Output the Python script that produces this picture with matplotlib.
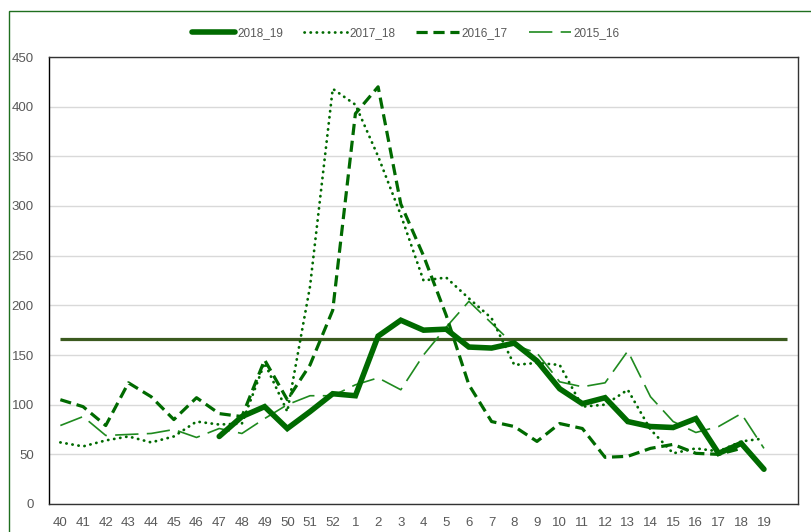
import numpy as np
import matplotlib
matplotlib.use("Agg")
import matplotlib.pyplot as plt
from matplotlib.patches import Rectangle

plt.rcParams["font.family"] = ["Liberation Sans Narrow", "Liberation Sans", "DejaVu Sans"]

# --------------------------------------------------------------------------- #
#  Data (weeks 40..52, 1..19, plus one empty slot at the end)
# --------------------------------------------------------------------------- #
weeks = [str(w) for w in range(40, 53)] + [str(w) for w in range(1, 20)] + [""]
nan = np.nan

s2018_19 = [nan, nan, nan, nan, nan, nan, nan,
            68, 88, 98, 76, 93, 111, 109, 169, 185, 175, 176, 158, 157,
            162, 144, 116, 101, 107, 83, 78, 77, 86, 51, 61, 35, nan]
s2017_18 = [62, 58, 64, 68, 62, 68, 83, 80, 81, 142, 93, 219, 418, 402,
            350, 291, 225, 228, 207, 187, 140, 142, 140, 98, 100, 115,
            75, 51, 56, 53, 63, 66, nan]
s2016_17 = [105, 98, 79, 122, 108, 85, 107, 91, 88, 145, 105, 140, 195,
            393, 420, 302, 250, 190, 120, 83, 78, 63, 81, 76, 47, 48, 56,
            60, 51, 50, 56, nan, nan]
s2015_16 = [79, 88, 69, 70, 71, 75, 67, 76, 71, 86, 100, 109, 109, 120,
            127, 115, 150, 178, 204, 182, 160, 152, 123, 118, 122, 154,
            108, 83, 72, 78, 91, 56, nan]
threshold = [166] * len(weeks)

GREEN = "#006a00"
GREEN_LIGHT = "#1f8a1f"
OLIVE = "#3b5a1f"
GREY = "#595959"

# --------------------------------------------------------------------------- #
#  Figure
# --------------------------------------------------------------------------- #
fig = plt.figure(figsize=(8.12, 5.32), dpi=100)
fig.patches.append(Rectangle((9 / 812, -0.1), 1.2, 1.1 - 11 / 532,
                             transform=fig.transFigure, fill=False,
                             edgecolor="#1f6f1f", linewidth=1.0))

ax = fig.add_axes([49 / 812, 1 - 504 / 532, (798 - 49) / 812, (504 - 57) / 532])
x = np.arange(len(weeks))

ax.plot(x, threshold, color=OLIVE, lw=2.3, solid_capstyle="butt", zorder=2)
ax.plot(x, s2015_16, color=GREEN_LIGHT, lw=1.2, dashes=(14, 5),
        label="2015_16", zorder=3)
ax.plot(x, s2016_17, color=GREEN, lw=2.3, dashes=(3.5, 1.8),
        label="2016_17", zorder=3)
ax.plot(x, s2017_18, color=GREEN, lw=2.0, dashes=(0.1, 2.1),
        dash_capstyle="round", label="2017_18", zorder=4)
ax.plot(x, s2018_19, color=GREEN, lw=4.0, solid_capstyle="round",
        solid_joinstyle="miter", label="2018_19", zorder=5)

ax.set_xlim(-0.5, len(weeks) - 0.5)
ax.set_ylim(0, 450)
ax.set_yticks(np.arange(0, 451, 50))
ax.set_xticks(x)
ax.set_xticklabels(weeks)
ax.tick_params(length=0, labelsize=9.5, labelcolor=GREY)
ax.tick_params(axis="y", pad=11)
ax.tick_params(axis="x", pad=9)
ax.grid(axis="y", color="#d9d9d9", lw=1.0)
ax.set_axisbelow(True)
for side in ("left", "bottom", "right", "top"):
    ax.spines[side].set_color("#333333")
    ax.spines[side].set_linewidth(1.0)
ax.spines["left"].set_color("#000000")

handles, labels = ax.get_legend_handles_labels()
order = [3, 2, 1, 0]
fig.legend([handles[i] for i in order], [labels[i] for i in order],
           loc="center", bbox_to_anchor=(0.5, 1 - 33 / 532), ncol=4,
           frameon=False, fontsize=8.5, labelcolor=GREY, handlelength=3.6,
           handletextpad=0.2, columnspacing=1.8)

fig.savefig("out.png", dpi=100)
